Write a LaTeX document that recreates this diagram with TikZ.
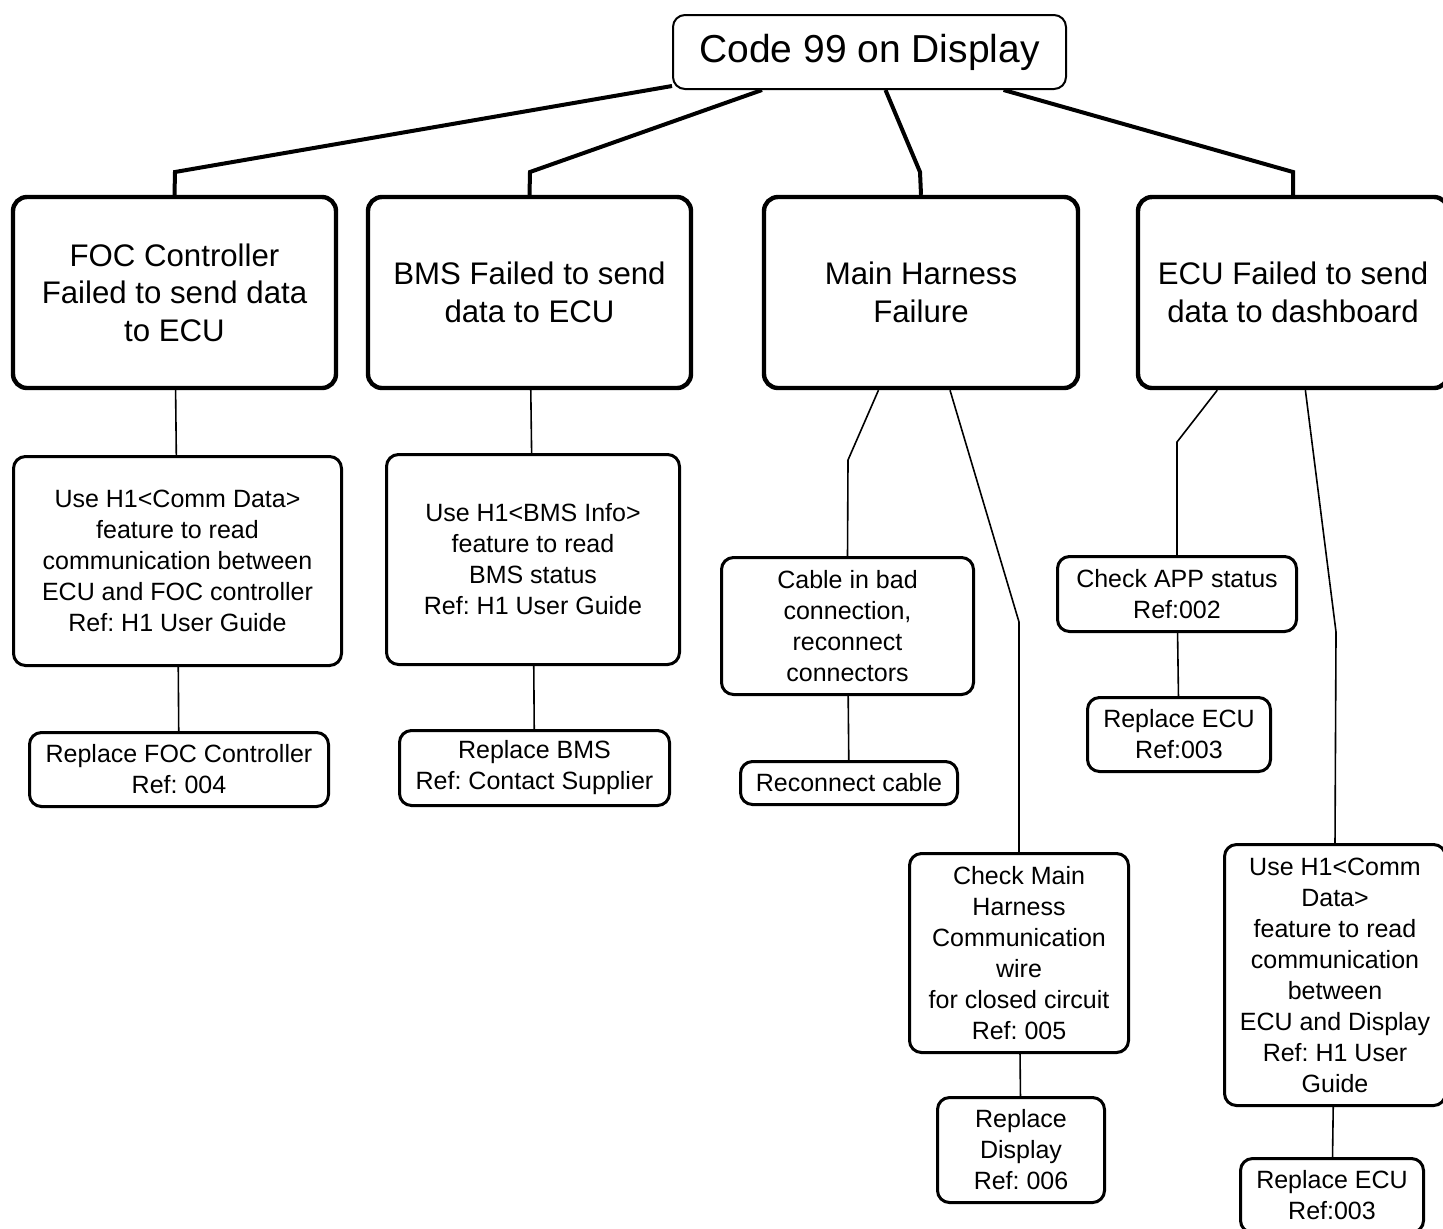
\documentclass[tikz,border=0pt]{standalone}
\usepackage{fontspec}
\setmainfont{Liberation Sans}
\frenchspacing

\begin{document}
\begin{tikzpicture}[x=0.5pt,y=-0.5pt]
\tikzstyle{every node}+=[inner sep=0pt]
\tikzstyle{rootbox}=[draw, fill=white, line width=1pt, rounded corners=6pt, align=center, font=\fontsize{19.5}{23}\selectfont]
\tikzstyle{faultbox}=[draw, fill=white, line width=2.2pt, rounded corners=7pt, align=center, font=\fontsize{15.6}{18.75}\selectfont]
\tikzstyle{checkbox}=[draw, fill=white, line width=1.5pt, rounded corners=6pt, align=center, font=\fontsize{12.5}{15.5}\selectfont]
\tikzstyle{trunk}=[line width=2pt]
\tikzstyle{branch}=[line width=0.8pt]
\useasboundingbox (0,0) rectangle (1443,1228);
\clip (0,0) rectangle (1443,1228);
\node [rootbox, minimum width=196.5pt, minimum height=37pt] (code) at (869.5,52) {Code 99 on Display};
\node [faultbox, minimum width=161.5pt, minimum height=95.5pt] (foc) at (174.5,292.5) {FOC Controller\\Failed to send data\\to ECU};
\node [faultbox, minimum width=161.5pt, minimum height=95.5pt] (bms) at (529.5,292.5) {BMS Failed to send\\data to ECU};
\node [faultbox, minimum width=157pt, minimum height=95.5pt] (harness) at (921,292.5) {Main Harness\\Failure};
\node [faultbox, minimum width=155pt, minimum height=95.5pt] (ecu) at (1293,292.5) {ECU Failed to send\\data to dashboard};
\coordinate (foctop) at (175,172);
\coordinate (bmstop) at (530,172);
\coordinate (harnesstop) at (920,172);
\coordinate (ecutop) at (1293,172);
\draw [trunk] (code) -- (foctop) -- (foc.north);
\draw [trunk] (code) -- (bmstop) -- (bms.north);
\draw [trunk] (code) -- (harnesstop) -- (harness.north);
\draw [trunk] (code) -- (ecutop) -- (ecu.north);
\node [checkbox, minimum width=164pt, minimum height=104.5pt] (focread) at (177.5,561) {Use H1<Comm Data>\\feature to read\\communication between\\ECU and FOC controller\\Ref: H1 User Guide};
\node [checkbox, minimum width=149.5pt, minimum height=37pt] (focrep) at (179,769.5) {Replace FOC Controller\\Ref: 004};
\node [checkbox, minimum width=146.5pt, minimum height=105pt] (bmsread) at (533,559.5) {Use H1<BMS Info>\\feature to read\\BMS status\\Ref: H1 User Guide};
\node [checkbox, minimum width=135pt, minimum height=37.5pt] (bmsrep) at (534.5,768) {Replace BMS\\Ref: Contact Supplier};
\node [checkbox, minimum width=126pt, minimum height=68.5pt] (cable) at (847.5,626) {Cable in bad\\connection,\\reconnect\\connectors};
\node [checkbox, minimum width=108.5pt, minimum height=21.5pt] (recon) at (849,783) {Reconnect cable};
\node [checkbox, minimum width=109.5pt, minimum height=99.5pt] (wire) at (1019,953) {Check Main\\Harness\\Communication\\wire\\for closed circuit\\Ref: 005};
\node [checkbox, minimum width=83.5pt, minimum height=52.5pt] (disprep) at (1021,1150) {Replace\\Display\\Ref: 006};
\node [checkbox, minimum width=119.5pt, minimum height=37.5pt] (app) at (1177,594) {Check APP status\\Ref:002};
\node [checkbox, minimum width=91.5pt, minimum height=37pt] (ecurep) at (1179,734.5) {Replace ECU\\Ref:003};
\node [checkbox, minimum width=110.5pt, minimum height=130.5pt] (ecuread) at (1335,975) {Use H1<Comm\\Data>\\feature to read\\communication\\between\\ECU and Display\\Ref: H1 User\\Guide};
\node [checkbox, minimum width=91.5pt, minimum height=37pt] (ecurep2) at (1332,1195.5) {Replace ECU\\Ref:003};
\coordinate (cablebend) at (848,460);
\coordinate (wirebend) at (1019,622);
\coordinate (appbend) at (1177,442);
\coordinate (ecureadbend) at (1336,632);
\draw [branch] (foc) -- (focread);
\draw [branch] (focread) -- (focrep);
\draw [branch] (bms) -- (bmsread);
\draw [branch] (bmsread) -- (bmsrep);
\draw [branch] (harness) -- (cablebend) -- (cable.north);
\draw [branch] (cable) -- (recon);
\draw [branch] (harness) -- (wirebend) -- (wire.north);
\draw [branch] (wire) -- (disprep);
\draw [branch] (ecu) -- (appbend) -- (app.north);
\draw [branch] (app) -- (ecurep);
\draw [branch] (ecu) -- (ecureadbend) -- (ecuread.north);
\draw [branch] (ecuread) -- (ecurep2);
\end{tikzpicture}
\end{document}
